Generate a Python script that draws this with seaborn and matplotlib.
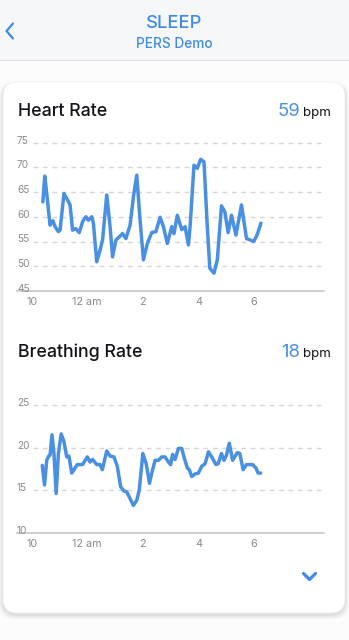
import matplotlib
matplotlib.use("Agg")
import matplotlib.pyplot as plt
from matplotlib.patches import FancyBboxPatch, Rectangle
from matplotlib.lines import Line2D
import seaborn as sns

# ---- data -------------------------------------------------------------
# time of night in hours (10 = 10 pm, 24 = midnight, 18 = 6 am)
hr_hours = [10.40, 10.47, 10.54, 10.66, 10.76, 10.84, 10.96, 11.02, 11.16, 11.26,
            11.38, 11.47, 11.59, 11.71, 11.83, 11.95, 12.04, 12.16, 12.22, 12.34,
            12.46, 12.55, 12.70, 12.82, 12.91, 13.03, 13.18, 13.27, 13.39, 13.54,
            13.66, 13.78, 13.90, 14.02, 14.16, 14.32, 14.47, 14.62, 14.74, 14.88,
            15.04, 15.12, 15.24, 15.40, 15.52, 15.64, 15.70, 15.84, 15.96, 16.08,
            16.20, 16.32, 16.41, 16.56, 16.68, 16.83, 16.95, 17.07, 17.19, 17.35,
            17.55, 17.73, 17.87, 17.99, 18.11, 18.25]
hr_values = [63.0, 68.2, 64.7, 58.3, 59.2, 58.0, 57.0, 57.3, 64.7, 63.7,
             62.4, 57.3, 57.6, 56.8, 59.0, 60.0, 59.3, 60.0, 58.7, 50.9,
             53.3, 55.3, 64.4, 58.0, 51.9, 55.3, 56.1, 56.6, 55.6, 58.3,
             64.0, 68.4, 59.3, 51.3, 54.6, 56.8, 57.0, 59.9, 58.0, 54.6,
             58.0, 56.6, 60.3, 57.4, 58.0, 54.3, 58.0, 70.4, 69.8, 71.6,
             71.1, 58.0, 49.6, 48.6, 51.3, 62.2, 61.0, 56.8, 60.3, 56.3,
             62.4, 55.6, 55.3, 55.0, 56.3, 58.7]

br_hours = [10.38, 10.46, 10.54, 10.61, 10.66, 10.73, 10.80, 10.88, 10.96, 11.06,
            11.16, 11.26, 11.34, 11.44, 11.52, 11.64, 11.83, 12.00, 12.10, 12.19,
            12.34, 12.46, 12.54, 12.70, 12.82, 12.96, 13.08, 13.20, 13.32, 13.42,
            13.54, 13.66, 13.78, 13.87, 14.00, 14.12, 14.24, 14.32, 14.44, 14.56,
            14.68, 14.80, 14.92, 15.00, 15.07, 15.16, 15.28, 15.40, 15.48, 15.60,
            15.67, 15.76, 15.88, 16.00, 16.12, 16.24, 16.36, 16.48, 16.63, 16.71,
            16.83, 16.92, 17.01, 17.11, 17.23, 17.40, 17.49, 17.61, 17.73, 17.95,
            18.07, 18.15, 18.24]
br_values = [17.9, 15.6, 18.5, 19.0, 19.1, 21.5, 19.3, 14.6, 19.3, 21.6,
             20.7, 18.9, 19.0, 17.0, 17.4, 18.0, 18.0, 18.9, 18.3, 18.6,
             18.0, 18.0, 17.4, 19.6, 19.0, 18.9, 17.8, 15.4, 14.9, 14.8,
             14.0, 13.2, 13.8, 15.0, 19.3, 18.1, 15.8, 17.0, 18.5, 18.5,
             18.9, 18.9, 18.3, 18.0, 19.2, 18.6, 19.9, 19.9, 18.9, 17.6,
             17.4, 16.6, 16.9, 17.0, 17.8, 18.1, 19.5, 18.9, 18.0, 18.1,
             19.3, 18.5, 19.1, 20.5, 18.5, 19.4, 19.3, 17.4, 18.0, 18.0,
             17.6, 17.0, 17.0]

x_ticks = [10, 12, 14, 16, 18]
x_tick_labels = ["10", "12 am", "2", "4", "6"]
hr_grid = [50, 55, 60, 65, 70, 75]
hr_labels = [45, 50, 55, 60, 65, 70, 75]
br_grid = [15, 20, 25]
br_labels = [10, 15, 20, 25]

hr_current = "59"
br_current = "18"

# ---- style ------------------------------------------------------------
sns.set_theme(style="white")
plt.rcParams["font.family"] = ["Inter", "DejaVu Sans"]

BLUE = "#4A90E2"
NAV_BLUE = "#3F8AE6"
INK = "#111317"
MUTED = "#8a8a8f"
GRID = "#d6d6d9"
AXIS = "#c7c7cc"

W, H = 349, 640
fig = plt.figure(figsize=(W / 100, H / 100), dpi=100)
fig.patch.set_facecolor("#fcfcfd")

# background layer in pixel units (y grows downward)
bg = fig.add_axes([0, 0, 1, 1], zorder=0)
bg.set_xlim(0, W)
bg.set_ylim(H, 0)
bg.axis("off")

# navigation bar
bg.add_patch(Rectangle((0, 0), W, 60, facecolor="#f6f7f9", edgecolor="none"))
bg.plot([0, W], [60, 60], color="#dedfe3", lw=0.8)
bg.text(W / 2, 28.5, "SLEEP", ha="center", va="baseline", fontsize=13.2,
        color=NAV_BLUE, fontweight="medium")
bg.text(W / 2, 48.3, "PERS Demo", ha="center", va="baseline", fontsize=9.8,
        color=NAV_BLUE, fontweight="medium")
bg.add_line(Line2D([13, 6.5, 13], [23.5, 31, 38.5], color=NAV_BLUE, lw=1.6,
                   solid_capstyle="round", solid_joinstyle="round"))

# card with soft shadow
for i, a in enumerate([0.018, 0.018, 0.02, 0.025, 0.03]):
    g = 7 - i * 1.4
    bg.add_patch(FancyBboxPatch((3 - g * 0.6, 82 - g * 0.3 + 2), 342 + g * 1.2, 531 + g * 0.9,
                                boxstyle="round,pad=0,rounding_size=16",
                                facecolor="#000000", edgecolor="none", alpha=a))
bg.add_patch(FancyBboxPatch((3, 82), 342, 531,
                            boxstyle="round,pad=0,rounding_size=14",
                            facecolor="white", edgecolor="#ececee", lw=0.5))

# card headers
for y, title, val in [(116, "Heart Rate", hr_current), (356.7, "Breathing Rate", br_current)]:
    bg.text(18, y, title, ha="left", va="baseline", fontsize=12.8, color=INK,
            fontweight="medium")
    bg.text(331, y, "bpm", ha="right", va="baseline", fontsize=9.6, color=INK)
    bg.text(300.5, y, val, ha="right", va="baseline", fontsize=13.4, color=BLUE)

# expand chevron
bg.add_line(Line2D([303.5, 309.5, 315.5], [573.5, 579.5, 573.5], color=NAV_BLUE,
                   lw=2.3, solid_capstyle="round", solid_joinstyle="round"))


def px_axes(left, right, top, bottom):
    return fig.add_axes([left / W, 1 - bottom / H, (right - left) / W, (bottom - top) / H],
                        zorder=2)


def draw_chart(ax, hours, values, ylim, grid_vals, label_vals):
    ax.set_facecolor("none")
    ax.hlines(grid_vals, 10.05, 20.52, colors=GRID, lw=1.0,
              linestyles=(0, (3.4, 3.4)), zorder=1)
    sns.lineplot(x=hours, y=values, ax=ax, color=BLUE, lw=2.5, zorder=3,
                 solid_capstyle="round", solid_joinstyle="round")
    ax.set_xlim(9.47, 20.52)
    ax.set_ylim(*ylim)
    for v in label_vals:
        ax.annotate(str(v), xy=(0, v), xycoords=("axes fraction", "data"),
                    xytext=(0, 2), textcoords="offset pixels",
                    ha="left", va="center", fontsize=7.3, color=MUTED)
    ax.set_xticks(x_ticks)
    ax.set_xticklabels(x_tick_labels)
    ax.set_yticks([])
    ax.tick_params(axis="x", length=0, pad=4.3, labelsize=7.8, labelcolor=MUTED)
    for s in ("top", "left", "right"):
        ax.spines[s].set_visible(False)
    ax.spines["bottom"].set_color(AXIS)
    ax.spines["bottom"].set_linewidth(1.2)
    ax.set_xlabel("")
    ax.set_ylabel("")


ax_hr = px_axes(17, 324, 132.6, 291)
draw_chart(ax_hr, hr_hours, hr_values, (45, 77), hr_grid, hr_labels)

ax_br = px_axes(17, 324, 392.2, 532.7)
draw_chart(ax_br, br_hours, br_values, (10, 26.5), br_grid, br_labels)

fig.savefig("out.png", dpi=100)
